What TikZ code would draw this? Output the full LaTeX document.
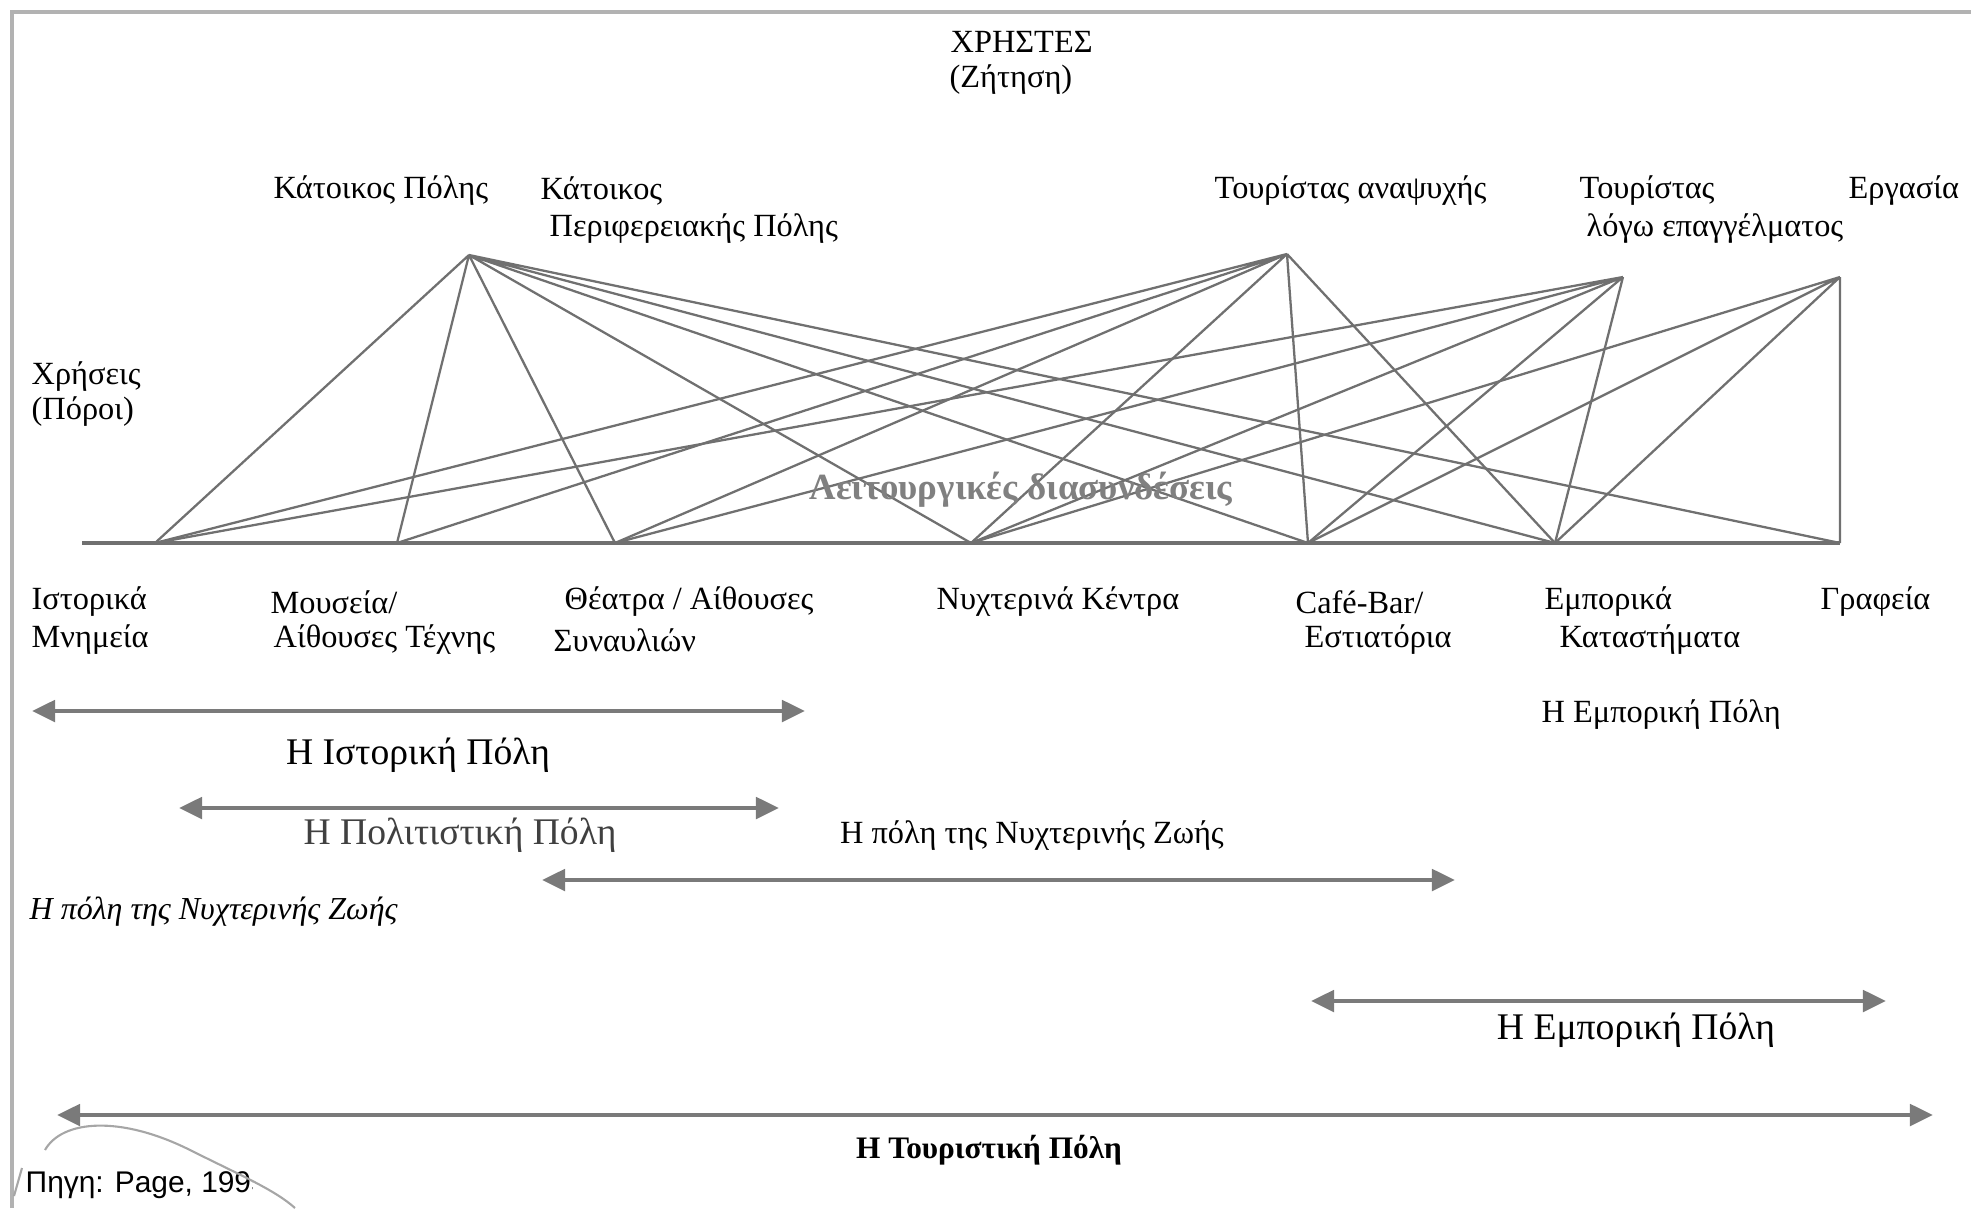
\documentclass[tikz,border=0pt]{standalone}
\usepackage{fontspec}
\setmainfont{Liberation Serif}
\newfontfamily\srcfont{Liberation Sans}
\usetikzlibrary{arrows.meta}
\definecolor{linkgray}{HTML}{707070}
\definecolor{spangray}{HTML}{7A7A7A}
\newcommand{\lblsize}{\fontsize{9.2}{11}\selectfont}

\begin{document}
\begin{tikzpicture}[x=0.01cm, y=-0.01cm,
        every node/.style={inner sep=0pt, font=\lblsize},
        lbl/.style={anchor=west},
        link/.style={draw=linkgray, line width=0.65pt},
        span/.style={draw=spangray, line width=1.4pt,
            {Triangle[length=2.3mm,width=2.1mm]}-{Triangle[length=2.3mm,width=2.1mm]}},
        cityname/.style={font=\fontsize{10.7}{13}\selectfont}]
        \useasboundingbox (0,0) rectangle (1971,1208);
        % edge of the scanned page
        \draw[gray!60, line width=1.2pt] (12,1208) -- (12,12) -- (1971,12);

        % users (demand)
        \node (xristes) at (950,42) [lbl] {ΧΡΗΣΤΕΣ};
        \node (zitisi) at (949,80) [lbl] {(Ζήτηση)};
        \node (katpol) at (273,191) [lbl] {Κάτοικος Πόλης};
        \node (katper) at (540,191) [lbl] {Κάτοικος};
        \node (katper2) at (549,229) [lbl] {Περιφερειακής Πόλης};
        \node (touran) at (1214,191) [lbl] {Τουρίστας αναψυχής};
        \node (tourep) at (1579,191) [lbl] {Τουρίστας};
        \node (tourep2) at (1586,229) [lbl] {λόγω επαγγέλματος};
        \node (ergas) at (1848,191) [lbl] {Εργασία};
        \node (xriseis) at (31,377) [lbl] {Χρήσεις};
        \node (poroi) at (31,412) [lbl] {(Πόροι)};

        \coordinate (katoikos) at (469,255);
        \coordinate (anapsyxi) at (1287,254);
        \coordinate (epaggelma) at (1623,277);
        \coordinate (ergasia) at (1840,277);

        % uses (resources) on the base line
        \coordinate (base) at (82,543);
        \coordinate (istorika) at (155,543);
        \coordinate (mouseia) at (397,543);
        \coordinate (theatra) at (615,543);
        \coordinate (nyxterina) at (971,543);
        \coordinate (cafe) at (1308,543);
        \coordinate (emporika) at (1555,543);
        \coordinate (grafeia) at (1840,543);
        \draw[link, line width=1.1pt] (base) -- (grafeia);

        \draw[link] (katoikos) -- (istorika) (katoikos) -- (mouseia) (katoikos) -- (theatra)
            (katoikos) -- (nyxterina) (katoikos) -- (cafe) (katoikos) -- (emporika) (katoikos) -- (grafeia);
        \draw[link] (anapsyxi) -- (istorika) (anapsyxi) -- (mouseia) (anapsyxi) -- (theatra)
            (anapsyxi) -- (nyxterina) (anapsyxi) -- (cafe) (anapsyxi) -- (emporika);
        \draw[link] (epaggelma) -- (istorika) (epaggelma) -- (theatra) (epaggelma) -- (nyxterina)
            (epaggelma) -- (cafe) (epaggelma) -- (emporika);
        \draw[link] (ergasia) -- (nyxterina) (ergasia) -- (cafe) (ergasia) -- (emporika) (ergasia) -- (grafeia);

        \node (leit) at (1021,490) [font=\fontsize{10.5}{12}\selectfont\bfseries, text=gray] {Λειτουργικές διασυνδέσεις};

        \node (ist) at (31,602) [lbl] {Ιστορικά};
        \node (ist2) at (31,640) [lbl] {Μνημεία};
        \node (mou) at (270,602) [lbl] {Μουσεία/};
        \node (mou2) at (273,640) [lbl] {Αίθουσες Τέχνης};
        \node (the) at (564,602) [lbl] {Θέατρα / Αίθουσες};
        \node (the2) at (553,640) [lbl] {Συναυλιών};
        \node (nyx) at (936,602) [lbl] {Νυχτερινά Κέντρα};
        \node (caf) at (1295,602) [lbl] {Café-Bar/};
        \node (caf2) at (1304,640) [lbl] {Εστιατόρια};
        \node (emp) at (1544,602) [lbl] {Εμπορικά};
        \node (emp2) at (1559,640) [lbl] {Καταστήματα};
        \node (gra) at (1820,602) [lbl] {Γραφεία};
        \node (emppol) at (1541,715) [lbl] {Η Εμπορική Πόλη};

        % the cities
        \coordinate (hist-l) at (32,711);   \coordinate (hist-r) at (805,711);
        \coordinate (cult-l) at (179,808);  \coordinate (cult-r) at (779,808);
        \coordinate (night-l) at (542,880); \coordinate (night-r) at (1455,880);
        \coordinate (comm-l) at (1311,1001); \coordinate (comm-r) at (1886,1001);
        \coordinate (tour-l) at (57,1115);  \coordinate (tour-r) at (1933,1115);
        \draw[span] (hist-l) -- (hist-r);
        \draw[span] (cult-l) -- (cult-r);
        \draw[span] (night-l) -- (night-r);
        \draw[span] (comm-l) -- (comm-r);
        \draw[span] (tour-l) -- (tour-r);
        \node (histpol) at (418,755) [cityname] {Η Ιστορική Πόλη};
        \node (cultpol) at (460,835) [cityname, text=black!75] {Η Πολιτιστική Πόλη};
        \node (nightpol) at (1032,836) {Η πόλη της Νυχτερινής Ζωής};
        \node (nightit) at (29,912) [lbl, font=\fontsize{9.1}{11}\selectfont\itshape] {Η πόλη της Νυχτερινής Ζωής};
        \node (commpol) at (1636,1030) [cityname] {Η Εμπορική Πόλη};
        \node (tourpol) at (989,1150) [font=\fontsize{8.9}{11}\selectfont\bfseries] {Η Τουριστική Πόλη};

        % source, partly covered
        \begin{scope}
            \clip (0,1150) rectangle (252,1208);
            \node (pigi) at (25,1185) [lbl, font=\srcfont\fontsize{8.5}{10}\selectfont] {Πηγη: Page, 1995};
        \end{scope}
        \draw[gray!70, line width=0.6pt] (14,1196) -- (22,1168);
        \draw[gray!70, line width=0.6pt] (45,1150) .. controls (62,1120) and (120,1115) .. (190,1150)
            .. controls (240,1175) and (275,1190) .. (295,1208);
    \end{tikzpicture}
\end{document}
